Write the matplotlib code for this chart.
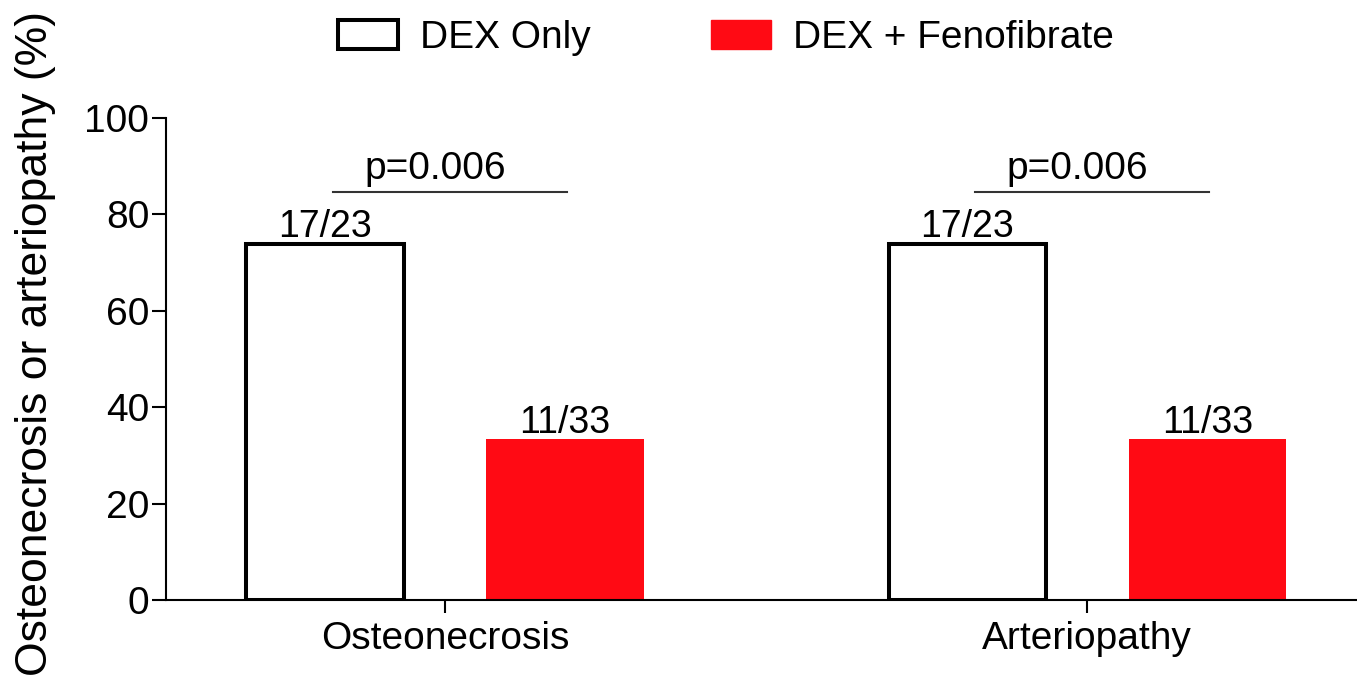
import matplotlib
matplotlib.use('Agg')
import matplotlib.pyplot as plt
from matplotlib.patches import Patch

plt.rcParams['font.family'] = ['Liberation Sans', 'DejaVu Sans']

categories = ['Osteonecrosis', 'Arteriopathy']
series = ['DEX Only', 'DEX + Fenofibrate']
dex_only = [17 / 23 * 100, 17 / 23 * 100]
dex_feno = [11 / 33 * 100, 11 / 33 * 100]
dex_only_labels = ['17/23', '17/23']
dex_feno_labels = ['11/33', '11/33']
p_values = ['p=0.006', 'p=0.006']
yticks = [0, 20, 40, 60, 80, 100]

red = '#ff0a14'
fig = plt.figure(figsize=(13.57, 6.87), dpi=100)
ax = fig.add_axes([0.1223, 0.1266, 0.8777, 0.7016])

x = list(range(len(categories)))
off = 0.187
w = 0.245
for i in x:
    ax.bar(i - off, dex_only[i], w, facecolor='white', edgecolor='black', linewidth=2.9)
    ax.bar(i + off, dex_feno[i], w, facecolor=red, edgecolor=red, linewidth=0)
    ax.text(i - off, dex_only[i] + 1.4, dex_only_labels[i], ha='center', va='baseline', fontsize=27)
    ax.text(i + off, dex_feno[i] + 1.4, dex_feno_labels[i], ha='center', va='baseline', fontsize=27)
    # significance bar
    ax.plot([i - 0.175, i + 0.19], [84.6, 84.6], color='#333333', lw=1.5, clip_on=False)
    ax.text(i - 0.015, 87.3, p_values[i], ha='center', va='baseline', fontsize=28)

ax.set_xlim(-0.4346, 1.42)
ax.set_ylim(0, 100)
ax.set_yticks(yticks)
ax.set_xticks(x)
ax.set_xticklabels(categories)
for s in ['top', 'right']:
    ax.spines[s].set_visible(False)
for s in ['left', 'bottom']:
    ax.spines[s].set_linewidth(1.5)
ax.tick_params(axis='y', length=10, width=1.5, labelsize=28, pad=2)
ax.tick_params(axis='x', length=9, width=1.5, labelsize=28, pad=6)

fig.text(0.026, 0.5, 'Osteonecrosis or arteriopathy (%)', rotation=90,
         ha='center', va='center', fontsize=32)

handles = [Patch(facecolor='white', edgecolor='black', linewidth=2.9),
           Patch(facecolor=red, edgecolor=red)]
fig.legend(handles, series, loc='center', bbox_to_anchor=(0.535, 0.945),
           ncol=2, frameon=False, fontsize=28, handlelength=1.54, handleheight=0.77,
           handletextpad=0.57, columnspacing=3.1)

fig.savefig('out.png', dpi=100)
